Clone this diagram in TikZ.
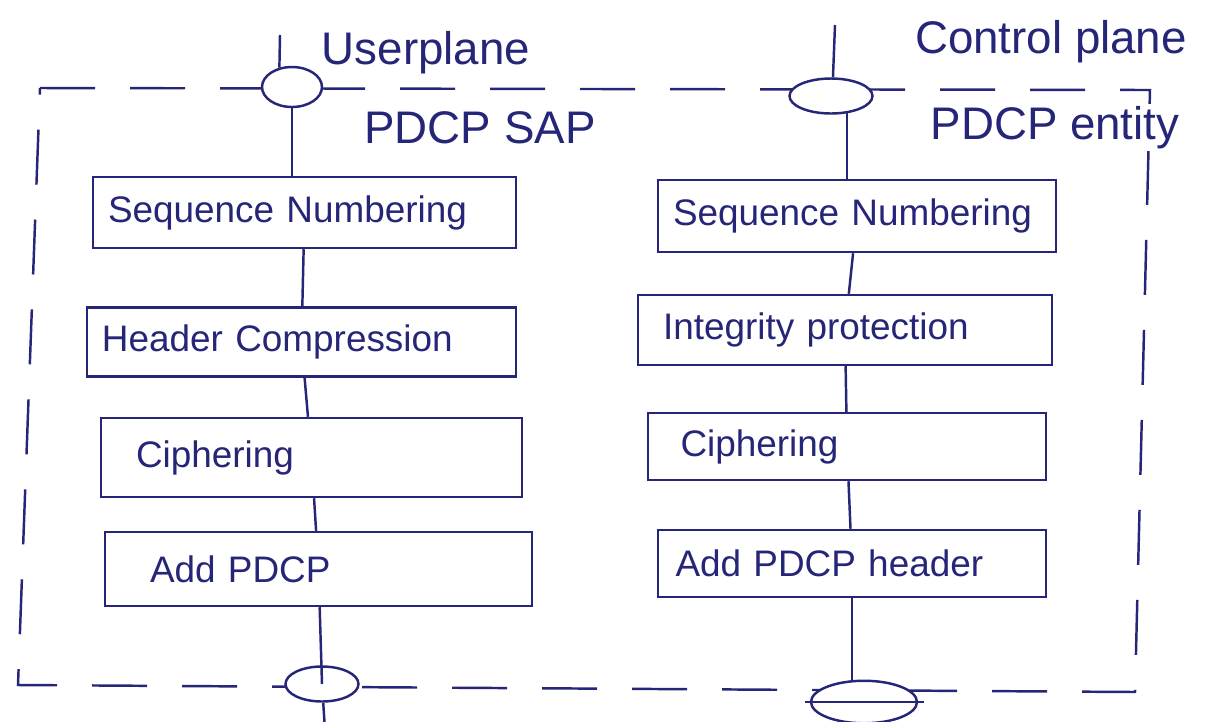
\documentclass[tikz,border=0pt]{standalone}
\usepackage{fontspec}
\setmainfont{Liberation Sans}
\usepackage{tikz}
\usetikzlibrary{shapes.geometric}

\definecolor{ink}{RGB}{38,38,120}
\newcommand{\stagefont}{\fontsize{21}{25}\selectfont}
\newcommand{\planefont}{\fontsize{26}{30}\selectfont}

\begin{document}
\begin{tikzpicture}[ink, line width=1.4pt,
        stage/.style={draw, fill=white, inner xsep=0.3cm, align=left, font=\stagefont},
        sap/.style={draw, fill=white, ellipse, inner sep=0pt},
        plane/.style={font=\planefont, fill=white, inner sep=1pt},
        frame/.style={dash pattern=on 1.1cm off 0.7cm}]
            \useasboundingbox (0,0) rectangle (24.58,-14.42);

            \draw[frame] (0.8,-1.76) -- (23.0,-1.8) -- (22.7,-13.84) -- (0.36,-13.7) -- cycle;

            \node[plane] (Userplane) at (8.52,-1.05) {Userplane};
            \node[plane] (User SAP Label) at (9.6,-2.55) {PDCP SAP};
            \node[plane] (Control Plane) at (21.02,-0.84) {Control plane};
            \node[plane] (Entity Label) at (21.1,-2.55) {PDCP entity};

            \node[sap, minimum width=1.2cm, minimum height=0.8cm] (User SAP) at (5.84,-1.74) {};
            \node[sap, minimum width=1.66cm, minimum height=0.7cm] (Control Entity) at (16.62,-1.92) {};
            \node[sap, minimum width=1.46cm, minimum height=0.7cm] (User Lower) at (6.44,-13.68) {};
            \node[sap, minimum width=2.12cm, minimum height=0.85cm] (Control Lower) at (17.28,-14.04) {};

            \node[stage, text width=7.86cm, minimum height=1.42cm] (User Sequence) at (6.09,-4.25) {Sequence Numbering};
            \node[stage, text width=7.98cm, minimum height=1.38cm] (User Header) at (6.03,-6.84) {Header Compression};
            \node[stage, inner xsep=0.7cm, text width=7.02cm, minimum height=1.58cm] (User Ciphering) at (6.23,-9.15) {Ciphering};
            \node[stage, inner xsep=0.9cm, text width=6.74cm, minimum height=1.48cm] (User Add) at (6.37,-11.38) {Add PDCP};

            \node[stage, text width=7.36cm, minimum height=1.44cm] (Control Sequence) at (17.14,-4.32) {Sequence Numbering};
            \node[stage, inner xsep=0.5cm, text width=7.28cm, minimum height=1.4cm] (Control Integrity) at (16.9,-6.6) {Integrity protection};
            \node[stage, inner xsep=0.65cm, text width=6.66cm, minimum height=1.34cm] (Control Ciphering) at (16.94,-8.93) {Ciphering};
            \node[stage, inner xsep=0.35cm, text width=7.06cm, minimum height=1.34cm] (Control Add) at (17.04,-11.27) {Add PDCP header};

            \coordinate (User Top) at (5.6,-0.7);
            \coordinate (Control Top) at (16.7,-0.5);
            \coordinate (User Out) at (6.5,-14.6);

            \draw (User Top) -- (User SAP.123);
            \draw (User SAP.south) -- (User SAP.south |- User Sequence.north);
            \draw (User Sequence) -- (User Header);
            \draw (User Header) -- (User Ciphering);
            \draw (User Ciphering) -- (User Add);
            \draw (User Add) -- (User Lower.center);
            \draw (User Lower) -- (User Out);

            \draw (Control Top) -- (Control Entity.84);
            \draw (Control Entity.-47) -- (Control Entity.-47 |- Control Sequence.north);
            \draw (Control Sequence) -- (Control Integrity);
            \draw (Control Integrity) -- (Control Ciphering);
            \draw (Control Ciphering) -- (Control Add);
            \draw (Control Add.south) -- (Control Add.south |- Control Lower.north);
            \draw ([xshift=-3pt]Control Lower.west) -- ([xshift=3pt]Control Lower.east);
        \end{tikzpicture}
\end{document}
